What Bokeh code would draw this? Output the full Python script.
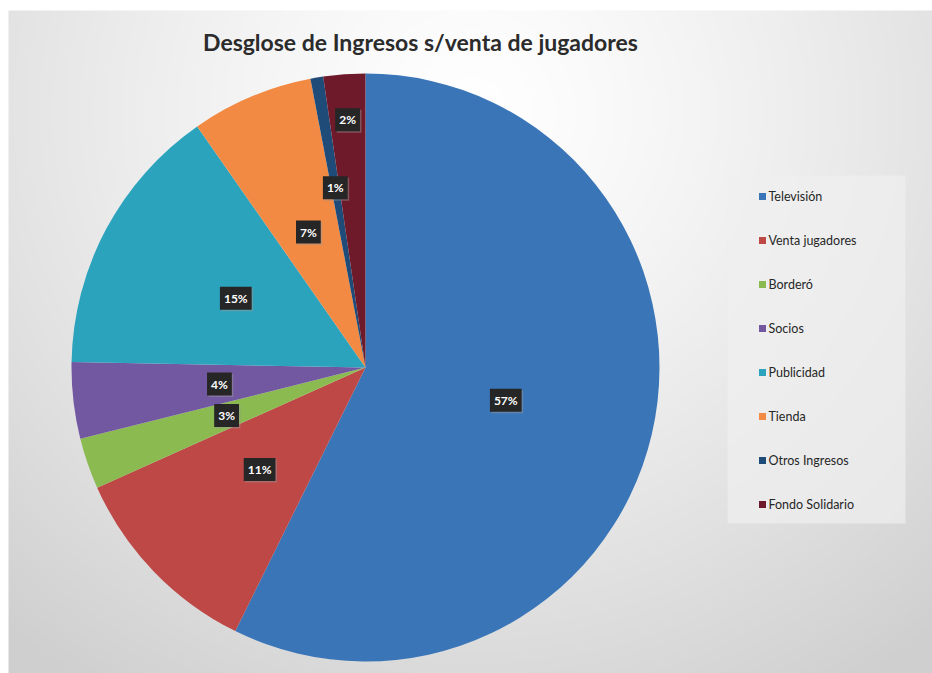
import numpy as np
from bokeh.plotting import figure
from bokeh.models import Range1d
from bokeh.core.properties import value
from bokeh.embed import file_html
from bokeh.resources import INLINE

# ---- data ----
title = "Desglose de Ingresos s/venta de jugadores"
categories = ["Televisión", "Venta jugadores", "Borderó", "Socios",
              "Publicidad", "Tienda", "Otros Ingresos", "Fondo Solidario"]
shares = [57.3, 11.0, 2.8, 4.2, 15.0, 6.7, 0.7, 2.3]
pct_labels = ["57%", "11%", "3%", "4%", "15%", "7%", "1%", "2%"]
colors = ["#3a76b7", "#bd4846", "#8bba51", "#7258a0",
          "#2ba3bc", "#f28a44", "#1e4b78", "#6e1a2a"]

W, H = 932, 673
p = figure(width=W, height=H, output_backend="svg", toolbar_location=None,
           x_range=Range1d(0, W), y_range=Range1d(0, H), min_border=0)
p.axis.visible = False
p.grid.visible = False
p.outline_line_color = None
p.background_fill_color = "white"
p.border_fill_color = "white"

# background gradient panel
px0, py0 = 8, 10
gw, gh = W - px0, H - py0
xs = np.arange(gw)[None, :] + px0
ys = np.arange(gh)[:, None] + py0  # pixel y (down)
d = np.sqrt(((xs - 470) / 620.0) ** 2 + ((ys - 110) / 600.0) ** 2)
d = np.clip(d, 0, 1.15) / 1.15
g = (255 - 48 * d ** 1.3).astype(np.uint32)
bgc = np.clip(g + 1, 0, 255)
img = (255 << 24) | (bgc << 16) | (g << 8) | g
img = img[::-1, :].astype(np.uint32)
p.image_rgba(image=[img], x=px0, y=0, dw=gw, dh=gh)

# pie
cx, cy, R = 365, H - 367, 294
total = sum(shares)
fr = np.array(shares) / total
cum = np.concatenate([[0], np.cumsum(fr)])
start = np.pi / 2 - 2 * np.pi * cum[:-1]
end = np.pi / 2 - 2 * np.pi * cum[1:]
p.wedge(x=cx, y=cy, radius=R, start_angle=start, end_angle=end,
        direction="clock", fill_color=colors, line_color=None)

# labels
lab_r = [0.49, 0.5, 0.5, 0.5, 0.5, 0.5, 0.62, 0.845]
mid = (start + end) / 2
lx = cx + np.array(lab_r) * R * np.cos(mid)
ly = cy + np.array(lab_r) * R * np.sin(mid)
p.text(x=lx + 1.5, y=ly - 1.5, text=pct_labels, text_align="center", text_baseline="middle",
       text_font=value("Lato"), text_font_style="bold", text_font_size="12px",
       text_color="#999999", background_fill_color="#999999", background_fill_alpha=0.45,
       padding=4)
p.text(x=lx, y=ly, text=pct_labels, text_align="center", text_baseline="middle",
       text_font=value("Lato"), text_font_style="bold", text_font_size="12px",
       text_color="white", background_fill_color="#262626", padding=4)

# title
p.text(x=[420], y=[H - 41], text=[title], text_align="center", text_baseline="middle",
       text_font=value("Lato"), text_font_style="bold", text_font_size="23px",
       text_color="#2b2b2b")

# legend
p.quad(left=727, right=905, bottom=H - 523, top=H - 175, fill_color="#f0f0f0",
       fill_alpha=0.7, line_color=None)
ly0 = [H - (196 + 44 * i) for i in range(len(categories))]
p.scatter(x=[762] * len(categories), y=ly0, marker="square", size=7,
          fill_color=colors, line_color=None)
p.text(x=[768] * len(categories), y=ly0, text=categories, text_baseline="middle",
       text_font=value("Lato"), text_font_size="12.5px", text_color="#262626")

open("out.html", "w").write(file_html(p, INLINE))
